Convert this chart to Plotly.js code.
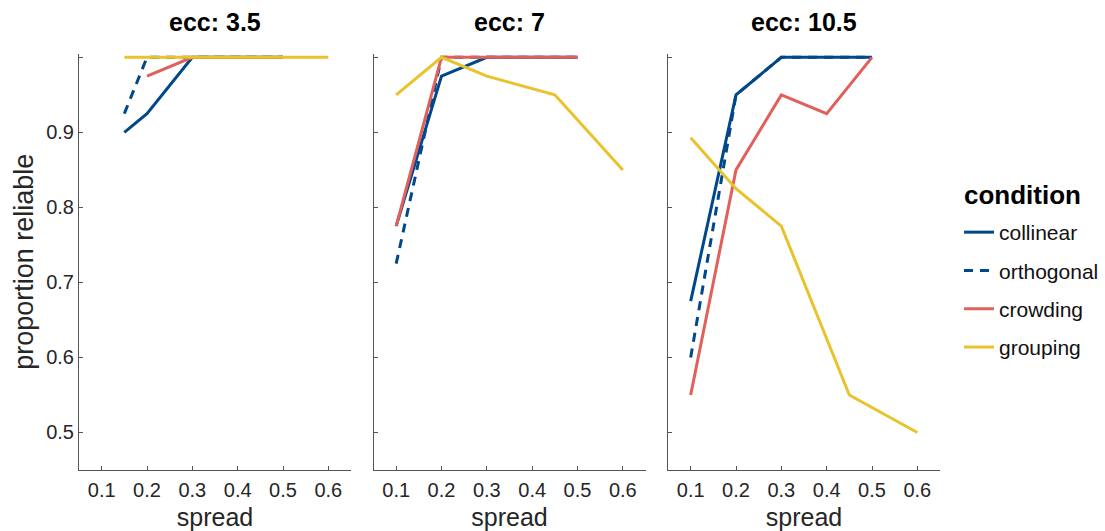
<!DOCTYPE html>
<html>
<head>
<meta charset="utf-8">
<script src="https://cdn.plot.ly/plotly-3.0.1.min.js"></script>
<style>html,body{margin:0;padding:0;background:#fff;}#chart{width:1105px;height:531px;}</style>
</head>
<body>
<div id="chart"></div>
<script>
// ---- data ----
const panelTitles = ['ecc: 3.5', 'ecc: 7', 'ecc: 10.5'];
const legendTitle = 'condition';
const conditions = ['collinear', 'orthogonal', 'crowding', 'grouping'];
const xTickVals = [0.1, 0.2, 0.3, 0.4, 0.5, 0.6];
const yTickVals = [0.5, 0.6, 0.7, 0.8, 0.9, 1.0];
const yTickText = ['0.5', '0.6', '0.7', '0.8', '0.9', ''];

// ecc 3.5
const e35_collinear_x  = [0.15, 0.2, 0.3, 0.4, 0.5];
const e35_collinear_y  = [0.9, 0.925, 1, 1, 1];
const e35_orthogonal_x = [0.15, 0.2, 0.3, 0.4, 0.5];
const e35_orthogonal_y = [0.925, 1, 1, 1, 1];
const e35_crowding_x   = [0.2, 0.3, 0.4, 0.5];
const e35_crowding_y   = [0.975, 1, 1, 1];
const e35_grouping_x   = [0.15, 0.2, 0.3, 0.45, 0.6];
const e35_grouping_y   = [1, 1, 1, 1, 1];

// ecc 7
const e7_collinear_x  = [0.1, 0.2, 0.3, 0.4, 0.5];
const e7_collinear_y  = [0.775, 0.975, 1, 1, 1];
const e7_orthogonal_x = [0.1, 0.2, 0.3, 0.4, 0.5];
const e7_orthogonal_y = [0.725, 1, 1, 1, 1];
const e7_crowding_x   = [0.1, 0.2, 0.3, 0.4, 0.5];
const e7_crowding_y   = [0.775, 1, 1, 1, 1];
const e7_grouping_x   = [0.1, 0.2, 0.3, 0.45, 0.6];
const e7_grouping_y   = [0.95, 1, 0.975, 0.95, 0.85];

// ecc 10.5
const e105_collinear_x  = [0.1, 0.2, 0.3, 0.4, 0.5];
const e105_collinear_y  = [0.675, 0.95, 1, 1, 1];
const e105_orthogonal_x = [0.1, 0.2, 0.3, 0.4, 0.5];
const e105_orthogonal_y = [0.6, 0.95, 1, 1, 1];
const e105_crowding_x   = [0.1, 0.2, 0.3, 0.4, 0.5];
const e105_crowding_y   = [0.55, 0.85, 0.95, 0.925, 1];
const e105_grouping_x   = [0.1, 0.2, 0.3, 0.45, 0.6];
const e105_grouping_y   = [0.893, 0.825, 0.775, 0.55, 0.5];

// ---- styling ----
const colors = {collinear: '#00488a', orthogonal: '#00488a', crowding: '#e0605b', grouping: '#e9c22c'};
const dashes = {collinear: 'solid', orthogonal: '9px,7px', crowding: 'solid', grouping: 'solid'};
const FONT = '"Liberation Sans", Arial, Helvetica, sans-serif';

const panelData = [
  {collinear: [e35_collinear_x, e35_collinear_y], orthogonal: [e35_orthogonal_x, e35_orthogonal_y],
   crowding: [e35_crowding_x, e35_crowding_y], grouping: [e35_grouping_x, e35_grouping_y]},
  {collinear: [e7_collinear_x, e7_collinear_y], orthogonal: [e7_orthogonal_x, e7_orthogonal_y],
   crowding: [e7_crowding_x, e7_crowding_y], grouping: [e7_grouping_x, e7_grouping_y]},
  {collinear: [e105_collinear_x, e105_collinear_y], orthogonal: [e105_orthogonal_x, e105_orthogonal_y],
   crowding: [e105_crowding_x, e105_crowding_y], grouping: [e105_grouping_x, e105_grouping_y]}
];

const traces = [];
panelData.forEach((pd, i) => {
  const sfx = i === 0 ? '' : String(i + 1);
  conditions.forEach(c => {
    traces.push({
      type: 'scatter', mode: 'lines',
      x: pd[c][0], y: pd[c][1],
      xaxis: 'x' + sfx, yaxis: 'y' + sfx,
      name: c, legendgroup: c, showlegend: i === 0,
      line: {color: colors[c], width: 3, dash: dashes[c]},
      hoverinfo: 'x+y+name'
    });
  });
});

const W = 1105, H = 531;
const px = v => v / W, py = v => 1 - v / H;
const xDomains = [[px(79), px(351)], [px(373.5), px(645.5)], [px(668), px(940)]];
const yDomain = [py(470), py(53.6)];
const axisColor = '#555555';
const tickFontColor = '#262626';

const layout = {
  width: W, height: H,
  margin: {l: 0, r: 0, t: 0, b: 0},
  paper_bgcolor: '#fff', plot_bgcolor: '#fff',
  font: {family: FONT, color: tickFontColor},
  showlegend: true,
  legend: {
    x: px(959), y: py(212), xanchor: 'left', yanchor: 'top',
    font: {family: FONT, size: 21, color: '#111'},
    tracegroupgap: 8,
    bgcolor: 'rgba(0,0,0,0)'
  },
  annotations: [{
    xref: 'paper', yref: 'paper', x: px(962), y: py(195),
    xanchor: 'left', yanchor: 'middle', showarrow: false,
    text: '<b>' + legendTitle + '</b>',
    font: {family: FONT, size: 26, color: '#000'}
  }],
};

xDomains.forEach((d, i) => {
  const sfx = i === 0 ? '' : String(i + 1);
  layout['xaxis' + sfx] = {
    domain: d, range: [0.05, 0.65], anchor: 'y' + sfx,
    tickvals: xTickVals, ticktext: xTickVals.map(v => v.toFixed(1)),
    ticks: 'inside', ticklen: 4, tickcolor: axisColor,
    showline: true, linecolor: axisColor, linewidth: 1,
    showgrid: false, zeroline: false, fixedrange: true,
    tickfont: {family: FONT, size: 20, color: tickFontColor},
    ticklabelstandoff: 2,
    title: {text: 'spread', font: {family: FONT, size: 25, color: tickFontColor}, standoff: 8},
    automargin: false
  };
  layout['yaxis' + sfx] = {
    domain: yDomain, range: [0.45, 1.005], anchor: 'x' + sfx,
    tickvals: yTickVals, ticktext: yTickText,
    showticklabels: i === 0,
    ticks: 'inside', ticklen: 4, tickcolor: axisColor,
    showline: true, linecolor: axisColor, linewidth: 1,
    showgrid: false, zeroline: false, fixedrange: true,
    tickfont: {family: FONT, size: 20, color: tickFontColor},
    title: i === 0 ? {text: 'proportion reliable', font: {family: FONT, size: 27, color: tickFontColor}, standoff: 4} : {text: ''},
    automargin: false
  };
  layout.annotations.push({
    xref: 'paper', yref: 'paper',
    x: (d[0] + d[1]) / 2, y: py(22), xanchor: 'center', yanchor: 'middle',
    text: '<b>' + panelTitles[i] + '</b>', showarrow: false,
    font: {family: FONT, size: 25, color: '#000'}
  });
});

Plotly.newPlot('chart', traces, layout, {displayModeBar: false, staticPlot: false});
</script>
</body>
</html>
